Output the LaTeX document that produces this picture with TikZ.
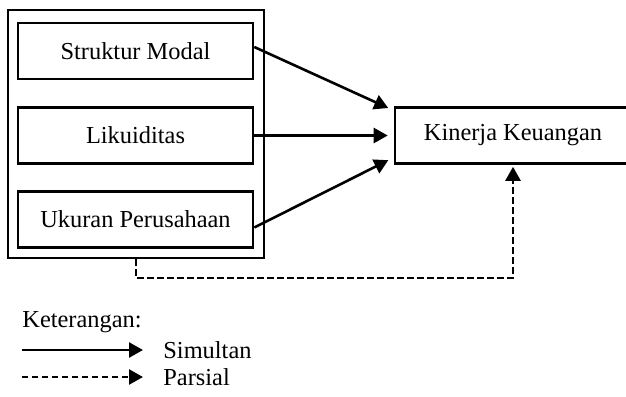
\documentclass[tikz,border=0pt]{standalone}
\usepackage{fontspec}
\setmainfont{Liberation Serif}
\usetikzlibrary{arrows.meta,calc}
\begin{document}
\begin{tikzpicture}[x=0.5pt,y=-0.5pt,
  box/.style={draw,line width=1.3pt,minimum width=117.5pt,minimum height=28pt,inner sep=0pt,font=\fontsize{12.2}{14}\selectfont},
  conn/.style={line width=1.3pt,-{Triangle[length=7pt,width=7.5pt]}},
  dsh/.style={conn,dash pattern=on 3.2pt off 1.8pt},
  lbl/.style={font=\fontsize{12.2}{14}\selectfont,inner sep=0pt,anchor=west}]
\useasboundingbox (0,0) rectangle (626,396);
\node[draw,line width=1.3pt,minimum width=128pt,minimum height=124pt,inner sep=0pt] (outer) at (136,134) {};
\node[box] (b1) at (135.5,51) {Struktur Modal};
\node[box] (b2) at (135.5,135.5) {Likuiditas};
\node[box] (b3) at (135.5,219.5) {Ukuran Perusahaan};
\node[box,minimum width=118pt] (k) at (513,135.5) {Kinerja Keuangan};
\draw[conn,shorten >=3pt] ($(b1.east)+(0,-4)$) -- ($(k.west)+(0,-25)$);
\draw[conn,shorten >=3pt] (b2.east) -- (k.west);
\draw[conn,shorten >=3pt] ($(b3.east)+(0,8)$) -- ($(k.west)+(0,22)$);
\coordinate (d1) at (136,278);
\coordinate (d2) at (513,278);
\draw[dsh,shorten >=1pt] (outer.south) -- (d1) -- (d2) -- (k.south);
\node[lbl] (ket) at (22,322) {Keterangan:};
\coordinate (s1) at (22,350);
\coordinate (s2) at (143,350);
\coordinate (p1) at (22,377);
\coordinate (p2) at (143,377);
\draw[conn] (s1) -- (s2);
\draw[dsh] (p1) -- (p2);
\node[lbl] (sim) at (163,350) {Simultan};
\node[lbl] (par) at (163,377) {Parsial};
\end{tikzpicture}
\end{document}
